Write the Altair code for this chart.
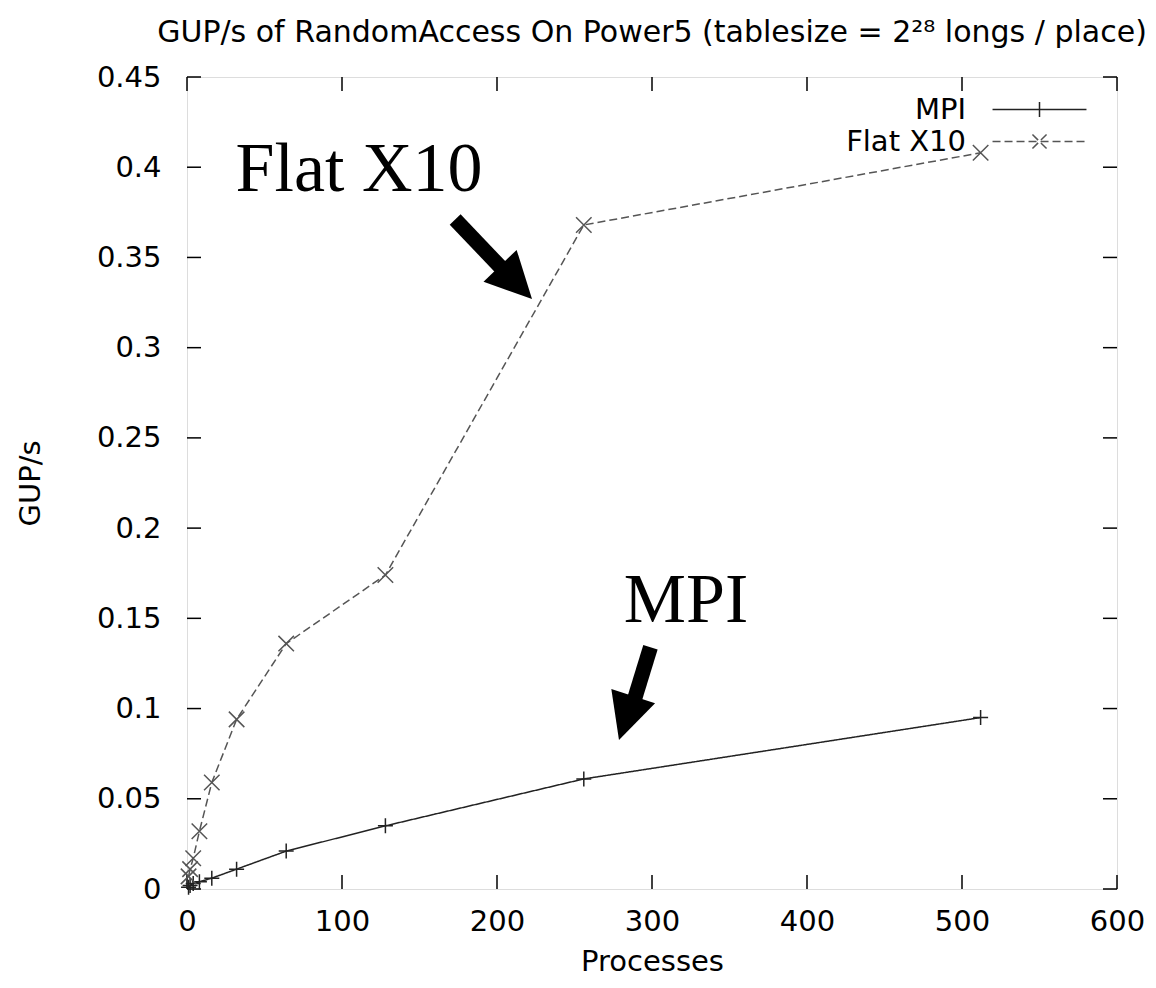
import altair as alt
import pandas as pd

# ---- data ----
processes = [1, 2, 4, 8, 16, 32, 64, 128, 256, 512]
mpi_gups = [0.001, 0.002, 0.003, 0.004, 0.006, 0.011, 0.021, 0.035, 0.061, 0.095]
flat_x10_gups = [0.007, 0.011, 0.017, 0.032, 0.059, 0.094, 0.136, 0.174, 0.368, 0.408]
series_names = ["MPI", "Flat X10"]

x_tick_values = [0, 100, 200, 300, 400, 500, 600]
y_tick_values = [0, 0.05, 0.1, 0.15, 0.2, 0.25, 0.3, 0.35, 0.4, 0.45]

# annotations (in data coordinates)
note_text = ["Flat X10", "MPI"]
note_x = [111, 322]
note_y = [0.387, 0.148]
arrow_start_x = [173, 299]
arrow_start_y = [0.371, 0.134]
arrow_end_x = [203, 289]
arrow_end_y = [0.344, 0.106]
arrow_tip_x = [222.6, 278.7]
arrow_tip_y = [0.327, 0.0826]
arrow_angle = [136, 198]

title_text = "GUP/s of RandomAccess On Power5 (tablesize = 2\u00b2\u2078 longs / place)"

# ---- tables ----
rows = []
for name, vals in zip(series_names, [mpi_gups, flat_x10_gups]):
    for p, v in zip(processes, vals):
        rows.append({"series": name, "processes": p, "gups": v})
df = pd.DataFrame(rows)
notes = pd.DataFrame({"text": note_text, "x": note_x, "y": note_y})
arrows = pd.DataFrame({
    "x": arrow_start_x, "y": arrow_start_y,
    "x2": arrow_end_x, "y2": arrow_end_y,
    "tx": arrow_tip_x, "ty": arrow_tip_y, "angle": arrow_angle,
})
xt = pd.DataFrame({"v": x_tick_values})
yt = pd.DataFrame({"v": y_tick_values})

W, H = 930, 812
FONT = "DejaVu Sans"
FS = 29
TICK = 14

x_scale = alt.Scale(domain=[0, 600], nice=False, zero=False)
y_scale = alt.Scale(domain=[0, 0.45], nice=False)
x_axis = alt.Axis(values=x_tick_values, grid=False, ticks=False, domain=False, format="d",
                  labelFont=FONT, labelFontSize=FS, labelColor="black", labelPadding=18,
                  titleFont=FONT, titleFontSize=FS, titleFontWeight="normal",
                  titleColor="black", titlePadding=11, labelFlush=False)
y_axis = alt.Axis(values=y_tick_values, grid=False, ticks=False, domain=False, format="~g",
                  labelFont=FONT, labelFontSize=FS, labelColor="black", labelPadding=26,
                  titleFont=FONT, titleFontSize=FS, titleFontWeight="normal",
                  titleColor="black", titlePadding=51, labelFlush=False)


def X(field, **kw):
    return alt.X(field, type="quantitative", scale=x_scale, axis=x_axis, title="Processes", **kw)


def Y(field, **kw):
    return alt.Y(field, type="quantitative", scale=y_scale, axis=y_axis, title="GUP/s", **kw)


plus_path = "M-1,0L1,0M0,-1L0,1"
cross_path = "M-1,-1L1,1M-1,1L1,-1"
legend_plus = "M-5,0L5,0M0,-0.8L0,0.8"
legend_cross = "M-5,0L5,0M-0.75,-0.75L0.75,0.75M-0.75,0.75L0.75,-0.75"
head_path = "M0,0L1,2L-1,2Z"
series_colors = ["#222222", "#555555"]
series_dashes = [[1, 0], [8, 4]]

legend = alt.Legend(
    title=None, orient="none", legendX=838, legendY=18, padding=0,
    labelAlign="right", labelOffset={"expr": "-88"}, labelFont=FONT, labelFontSize=FS,
    labelColor="black", labelLimit=400, symbolSize=353, symbolStrokeWidth=1.5,
    symbolFillColor="transparent", rowPadding=2,
)
color = alt.Color("series:N", scale=alt.Scale(domain=series_names, range=series_colors),
                  legend=legend)
dash = alt.StrokeDash("series:N", scale=alt.Scale(domain=series_names, range=series_dashes),
                      legend=legend)

lines = alt.Chart(df).mark_line(strokeWidth=1.5).encode(
    x=X("processes"), y=Y("gups"), color=color, strokeDash=dash,
)
pts_mpi = alt.Chart(df).transform_filter(alt.datum.series == "MPI").mark_point(
    shape=plus_path, filled=False, strokeWidth=1.5, size=225, opacity=1).encode(
    x=X("processes"), y=Y("gups"), color=color)
pts_x10 = alt.Chart(df).transform_filter(alt.datum.series == "Flat X10").mark_point(
    shape=cross_path, filled=False, strokeWidth=1.5, size=240, opacity=1).encode(
    x=X("processes"), y=Y("gups"), color=color)
# legend-only layer: gives each legend entry a line-with-marker symbol
legend_layer = alt.Chart(df).transform_filter("false").mark_point(
    filled=False, strokeWidth=1.5, opacity=1).encode(
    x=X("processes"), y=Y("gups"), color=color, strokeDash=dash,
    shape=alt.Shape("series:N", scale=alt.Scale(domain=series_names, range=[legend_plus, legend_cross]),
                    legend=legend),
)

texts = alt.Chart(notes).mark_text(font="Liberation Serif", fontSize=70, align="center",
                                   baseline="alphabetic", color="black").encode(
    x=X("x"), y=Y("y"), text="text:N")
shafts = alt.Chart(arrows).mark_rule(strokeWidth=15, color="black").encode(
    x=X("x"), y=Y("y"), x2="x2", y2="y2")
heads = alt.Chart(arrows).mark_point(shape=head_path, filled=True, size=2116, color="black",
                                     opacity=1, strokeWidth=0).encode(
    x=X("tx"), y=Y("ty"), angle=alt.Angle("angle:Q", scale=None))

tick_style = dict(color="black", strokeWidth=1.5)
t_left = alt.Chart(yt).mark_rule(**tick_style).encode(y=Y("v"), x=alt.value(0), x2=alt.value(TICK))
t_right = alt.Chart(yt).mark_rule(**tick_style).encode(y=Y("v"), x=alt.value(W - TICK), x2=alt.value(W))
t_bottom = alt.Chart(xt).mark_rule(**tick_style).encode(x=X("v"), y=alt.value(H), y2=alt.value(H - TICK))
t_top = alt.Chart(xt).mark_rule(**tick_style).encode(x=X("v"), y=alt.value(0), y2=alt.value(TICK))

chart = alt.layer(
    t_left, t_right, t_bottom, t_top, lines, pts_mpi, pts_x10, legend_layer, shafts, heads, texts
).properties(
    width=W, height=H,
    title=alt.Title(title_text, font=FONT, fontSize=30, fontWeight="normal", color="black",
                    anchor="middle", offset=15),
    autosize=alt.AutoSizeParams(type="none"),
    padding={"left": 179, "top": 69, "right": 31, "bottom": 88},
).configure_view(stroke="black", strokeWidth=1.5).configure(background="white")

chart.save("out.html", embed_options={"renderer": "svg", "actions": False})
